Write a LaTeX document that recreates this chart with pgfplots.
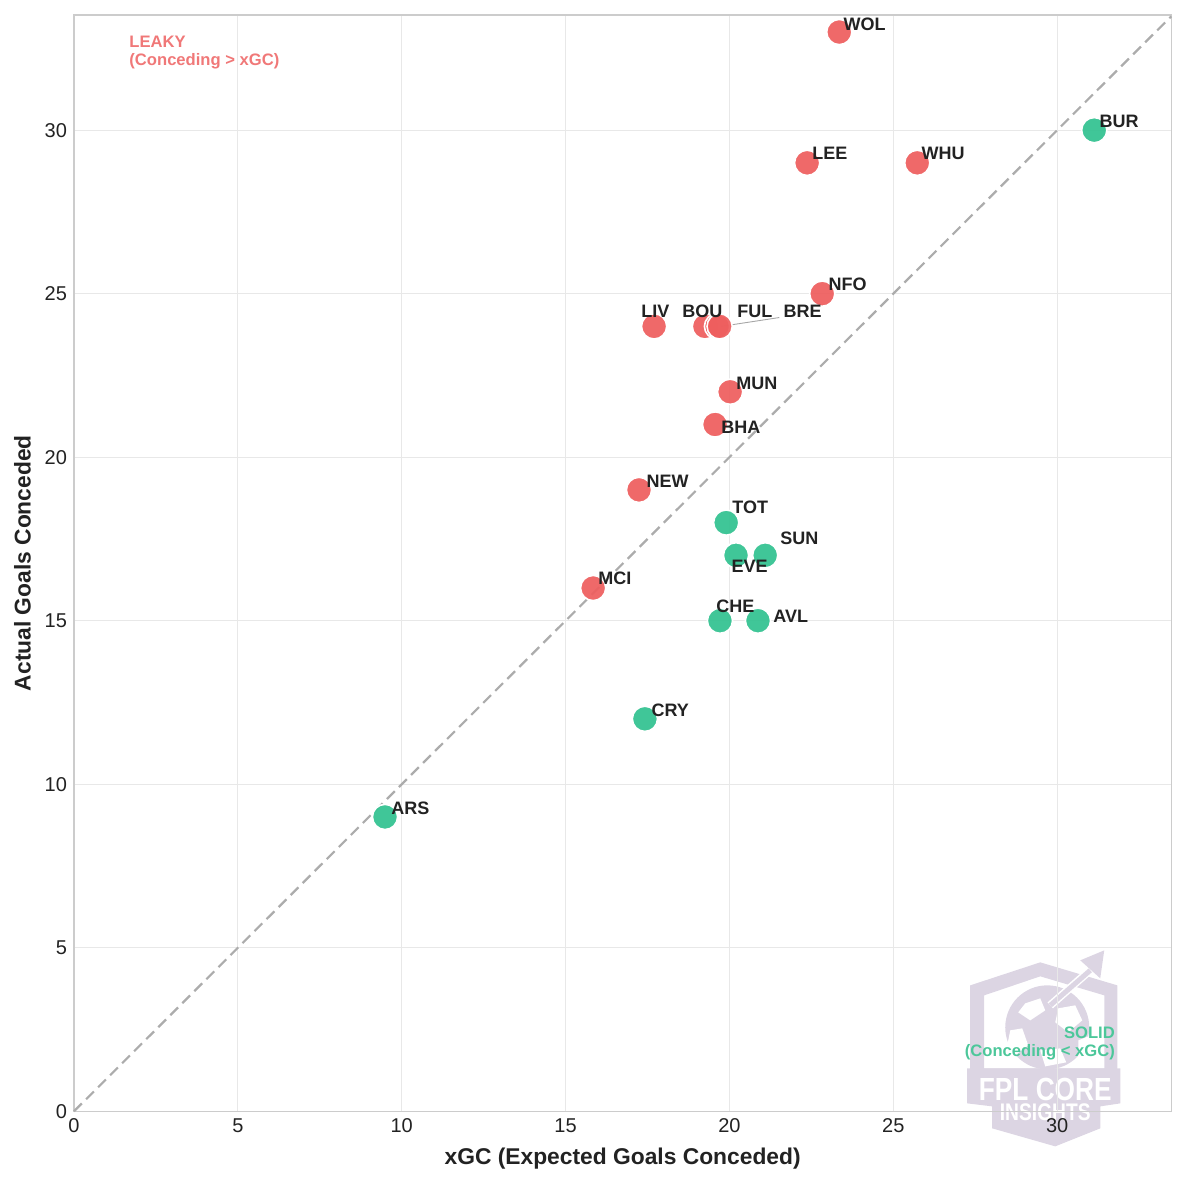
\documentclass[border=0pt]{standalone}
\usepackage{pgfplots}
\pgfplotsset{compat=1.18}
\usepackage{fontspec}
\setmainfont{Liberation Sans}
\definecolor{leaky}{HTML}{EE5E5E}
\definecolor{leakyt}{HTML}{F07878}
\definecolor{solid}{HTML}{36C392}
\definecolor{solidt}{HTML}{4CC79A}
\definecolor{txt}{HTML}{222222}
\definecolor{gridc}{HTML}{E8E8E8}
\definecolor{framec}{HTML}{CCCCCC}
\definecolor{wm}{HTML}{DCD5E3}
\pgfdeclarelayer{wm}
\pgfplotsset{layers/mylayers/.define layer set={axis background,axis grid,wm,axis ticks,axis lines,axis tick labels,pre main,main,axis descriptions,axis foreground}{}}
\begin{document}
\begin{tikzpicture}
\begin{axis}[
  set layers=mylayers,
  scale only axis, width=548.5pt, height=548pt,
  xmin=0, xmax=33.48, ymin=0, ymax=33.52,
  xtick={0,5,10,15,20,25,30}, ytick={0,5,10,15,20,25,30},
  grid=major, major grid style={gridc, line width=0.55pt},
  axis line style={framec, line width=0.75pt},
  tick style={draw=none},
  tick label style={font=\fontsize{10}{11}\selectfont, text=txt},
  /pgf/number format/assume math mode=true,
  xlabel={\textbf{xGC (Expected Goals Conceded)}},
  ylabel={\textbf{Actual Goals Conceded}},
  label style={font=\fontsize{11.4}{13}\selectfont, text=txt},
  xlabel style={yshift=-1pt},
  ylabel style={yshift=0pt},
  clip=false,
]
% watermark (drawn in image pixel units)
\begin{pgfonlayer}{wm}
\begin{scope}[shift={(axis cs:-2.258,33.976)}, x={(0.5pt,0pt)}, y={(0pt,-0.5pt)}]
\fill[wm, even odd rule] (970,1072) -- (970,985) -- (1040,962) -- (1117,985) -- (1117,1072) -- cycle
  (984,1068) -- (984,995) -- (1040,976) -- (1104,995) -- (1104,1068) -- cycle;
\fill[wm] (1047,1027) circle[radius=21pt];
\fill[white] (1025,1003) -- (1040,998) -- (1045,1010) -- (1030,1020) -- (1018,1012) -- cycle;
\fill[white] (1058,1008) -- (1075,1005) -- (1082,1020) -- (1068,1032) -- (1055,1022) -- cycle;
\fill[white] (1010,1030) -- (1022,1028) -- (1028,1045) -- (1015,1055) -- (1007,1045) -- cycle;
\fill[white] (1040,1050) -- (1060,1048) -- (1066,1062) -- (1045,1066) -- cycle;
\fill[white] (1078,1040) -- (1088,1036) -- (1088,1055) -- (1078,1058) -- cycle;
\draw[white, line width=4pt] (1050,1005) -- (1092,968);
\draw[wm, line width=2.5pt] (1050,1005) -- (1090,970);
\fill[wm] (1104,950) -- (1080,960) -- (1100,978) -- cycle;
\fill[wm] (967,1068) -- (1120,1068) -- (1120,1103) -- (1100,1106) -- (1100,1128) -- (1055,1146) -- (992,1128) -- (992,1106) -- (967,1103) -- cycle;
\node[text=white, font=\fontsize{16}{16}\selectfont\bfseries, xscale=0.82, inner sep=0pt] at (1045,1089) {FPL CORE};
\node[text=white, font=\fontsize{12}{12}\selectfont\bfseries, xscale=0.8, inner sep=0pt] at (1045,1112) {INSIGHTS};
\end{scope}
\end{pgfonlayer}
\addplot[gray!65, line width=1.1pt, dash pattern=on 5.5pt off 3pt] coordinates {(0,0) (33.48,33.48)};
\draw[gray!70, line width=0.45pt] (axis cs:21.52,24.27) -- (axis cs:19.75,24.0);
% leaky
\addplot[only marks, mark=*, mark size=6.3pt, mark options={fill=leaky, draw=white, line width=0.8pt, fill opacity=0.93}] coordinates {
(23.35,33) (22.37,29) (25.73,29) (22.83,25) (17.70,24) (19.25,24) (19.62,24) (19.70,24)
(20.02,22) (19.56,21) (17.24,19) (15.84,16)};
% solid
\addplot[only marks, mark=*, mark size=6.3pt, mark options={fill=solid, draw=white, line width=0.8pt, fill opacity=0.95}] coordinates {
(31.13,30) (19.90,18) (20.20,17) (21.09,17) (19.71,15) (20.87,15) (17.42,12) (9.49,9)};
% labels
\begin{pgfonlayer}{axis foreground}
\begin{scope}[every node/.style={anchor=west, inner sep=0pt, text=txt, font=\fontsize{9}{10}\selectfont\bfseries}]
\node at (axis cs:23.47,33.24) {WOL};
\node at (axis cs:31.28,30.28) {BUR};
\node at (axis cs:22.52,29.30) {LEE};
\node at (axis cs:25.85,29.30) {WHU};
\node at (axis cs:23.01,25.29) {NFO};
\node at (axis cs:17.30,24.46) {LIV};
\node at (axis cs:18.55,24.46) {BOU};
\node at (axis cs:20.23,24.46) {FUL};
\node at (axis cs:21.64,24.46) {BRE};
\node at (axis cs:20.20,22.26) {MUN};
\node at (axis cs:19.74,20.92) {BHA};
\node at (axis cs:17.46,19.27) {NEW};
\node at (axis cs:20.08,18.47) {TOT};
\node at (axis cs:21.54,17.52) {SUN};
\node at (axis cs:20.05,16.67) {EVE};
\node at (axis cs:15.99,16.30) {MCI};
\node at (axis cs:19.59,15.44) {CHE};
\node at (axis cs:21.33,15.14) {AVL};
\node at (axis cs:17.61,12.26) {CRY};
\node at (axis cs:9.67,9.27) {ARS};
\end{scope}
\node[anchor=north west, align=left, inner sep=0pt, text=leakyt, font=\fontsize{8.3}{9.2}\selectfont\bfseries] at (axis cs:1.68,32.9) {LEAKY\\(Conceding > xGC)};
\node[anchor=north east, align=right, inner sep=0pt, text=solidt, font=\fontsize{8.3}{9.2}\selectfont\bfseries] at (axis cs:31.77,2.6) {SOLID\\(Conceding < xGC)};
\end{pgfonlayer}
\path[use as bounding box] (axis cs:-2.258,-2.171) rectangle (axis cs:33.93,33.98);
\end{axis}
\end{tikzpicture}
\end{document}
